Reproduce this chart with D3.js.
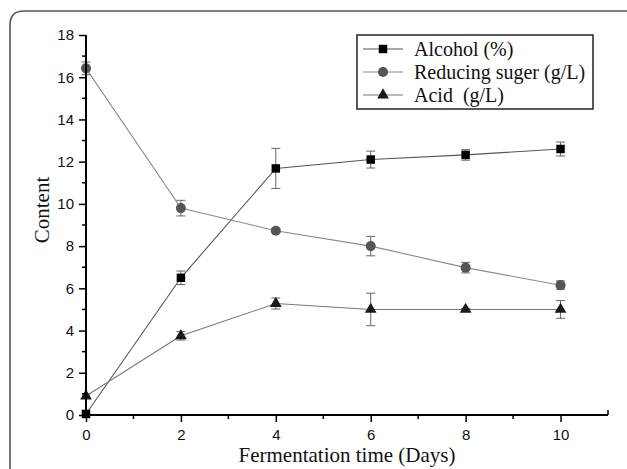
<!DOCTYPE html>
<html><head><meta charset="utf-8">
<script src="https://cdn.jsdelivr.net/npm/d3@7"></script>
<style>body{margin:0;background:#fff}svg{display:block}text{white-space:pre}</style>
</head><body>
<svg id="c" width="627" height="469"></svg>
<script>
const days = [0, 2, 4, 6, 8, 10];
const alcohol = [0.05, 6.5, 11.68, 12.1, 12.32, 12.6];
const alcoholErr = [0, 0.32, 0.95, 0.4, 0.25, 0.33];
const sugar = [16.42, 9.8, 8.73, 8.0, 6.98, 6.15];
const sugarErr = [0.3, 0.37, 0.1, 0.46, 0.25, 0.2];
const acid = [0.9, 3.75, 5.28, 5.0, 5.0, 5.0];
const acidErr = [0.1, 0.2, 0.26, 0.77, 0.05, 0.42];
const seriesNames = ["Alcohol (%)", "Reducing suger (g/L)", "Acid  (g/L)"];
const xTicks = [0, 2, 4, 6, 8, 10];
const yTicks = [0, 2, 4, 6, 8, 10, 12, 14, 16, 18];

const svg = d3.select("#c");
const L = 86, R = 608, T = 35, B = 415;
const x = d3.scaleLinear().domain([0, 11]).range([L, R]);
const y = d3.scaleLinear().domain([0, 18]).range([B, T]);

// outer rounded frame
svg.append("path")
  .attr("d", "M10,470 L10,25 Q10,11 24,11 L627,11")
  .attr("fill", "none").attr("stroke", "#555").attr("stroke-width", 1.6);

const series = [
  {v: alcohol, e: alcoholErr, line: "#555", mark: "#000", shape: d3.symbolSquare, size: 72},
  {v: sugar, e: sugarErr, line: "#8a8a8a", mark: "#555", shape: d3.symbolCircle, size: 80},
  {v: acid, e: acidErr, line: "#777", mark: "#1a1a1a", shape: d3.symbolTriangle, size: 60}
];

// lines
series.forEach(s => {
  svg.append("path")
    .datum(days.map((d, i) => [d, s.v[i]]))
    .attr("d", d3.line().x(d => x(d[0])).y(d => y(d[1])))
    .attr("fill", "none").attr("stroke", s.line).attr("stroke-width", 1.1);
});

// error bars
series.forEach(s => {
  const g = svg.append("g").attr("stroke", "#666").attr("stroke-width", 1);
  days.forEach((d, i) => {
    if (!s.e[i]) return;
    const cx = x(d), y1 = y(s.v[i] + s.e[i]), y2 = y(s.v[i] - s.e[i]);
    g.append("line").attr("x1", cx).attr("x2", cx).attr("y1", y1).attr("y2", y2);
    g.append("line").attr("x1", cx - 4.5).attr("x2", cx + 4.5).attr("y1", y1).attr("y2", y1);
    g.append("line").attr("x1", cx - 4.5).attr("x2", cx + 4.5).attr("y1", y2).attr("y2", y2);
  });
});

// markers
series.forEach(s => {
  svg.append("g").selectAll("path").data(days.map((d, i) => [d, s.v[i]])).join("path")
    .attr("transform", d => `translate(${x(d[0])},${y(d[1])})`)
    .attr("d", d3.symbol().type(s.shape).size(s.size))
    .attr("fill", s.mark);
});

// axes
const tickFont = "'Liberation Sans', Arial, sans-serif";
const xAxis = svg.append("g").attr("transform", `translate(0,${B})`)
  .call(d3.axisBottom(x).tickValues(xTicks).tickSize(7).tickPadding(7).tickFormat(d3.format("d")));
const yAxis = svg.append("g").attr("transform", `translate(${L},0)`)
  .call(d3.axisLeft(y).tickValues(yTicks).tickSize(7).tickPadding(5).tickFormat(d3.format("d")));
[xAxis, yAxis].forEach(a => {
  a.select(".domain").attr("stroke", "#000").attr("stroke-width", 2);
  a.selectAll(".tick line").attr("stroke", "#000").attr("stroke-width", 1.5);
  a.selectAll("text").attr("font-family", tickFont).attr("font-size", 15).attr("fill", "#111");
});
xAxis.select(".domain").attr("d", `M${L},0H${R}`);
yAxis.select(".domain").attr("d", `M0,${B}V${T}`);
// end tick on x axis
svg.append("line").attr("x1", R).attr("x2", R).attr("y1", B - 5).attr("y2", B).attr("stroke", "#000").attr("stroke-width", 1.5);

// minor ticks
svg.append("g").selectAll("line").data([1, 3, 5, 7, 9]).join("line")
  .attr("x1", d => x(d)).attr("x2", d => x(d)).attr("y1", B).attr("y2", B + 4)
  .attr("stroke", "#000").attr("stroke-width", 1.5);
svg.append("g").selectAll("line").data([1, 3, 5, 7, 9, 11, 13, 15, 17]).join("line")
  .attr("x1", L - 4).attr("x2", L).attr("y1", d => y(d)).attr("y2", d => y(d))
  .attr("stroke", "#000").attr("stroke-width", 1.5);

// axis titles
const serif = "'Liberation Serif', 'Times New Roman', serif";
svg.append("text").attr("x", 347).attr("y", 462).attr("text-anchor", "middle")
  .attr("font-family", serif).attr("font-size", 21).attr("fill", "#111")
  .text("Fermentation time (Days)");
svg.append("text").attr("transform", "translate(49,210) rotate(-90)").attr("text-anchor", "middle")
  .attr("font-family", serif).attr("font-size", 21).attr("fill", "#111")
  .text("Content");

// legend
const lg = svg.append("g");
lg.append("rect").attr("x", 357).attr("y", 35).attr("width", 236).attr("height", 74)
  .attr("fill", "#fff").attr("stroke", "#222").attr("stroke-width", 1.5);
const rowsY = [49, 72, 95];
series.forEach((s, i) => {
  lg.append("line").attr("x1", 363).attr("x2", 403).attr("y1", rowsY[i]).attr("y2", rowsY[i])
    .attr("stroke", s.line).attr("stroke-width", 1.1);
  lg.append("path").attr("transform", `translate(383,${rowsY[i]})`)
    .attr("d", d3.symbol().type(s.shape).size(s.size)).attr("fill", s.mark);
  lg.append("text").attr("x", 414).attr("y", rowsY[i] + 6.5)
    .attr("font-family", serif).attr("font-size", 20).attr("fill", "#111")
    .attr("xml:space", "preserve")
    .text(seriesNames[i]);
});
</script>
</body></html>
